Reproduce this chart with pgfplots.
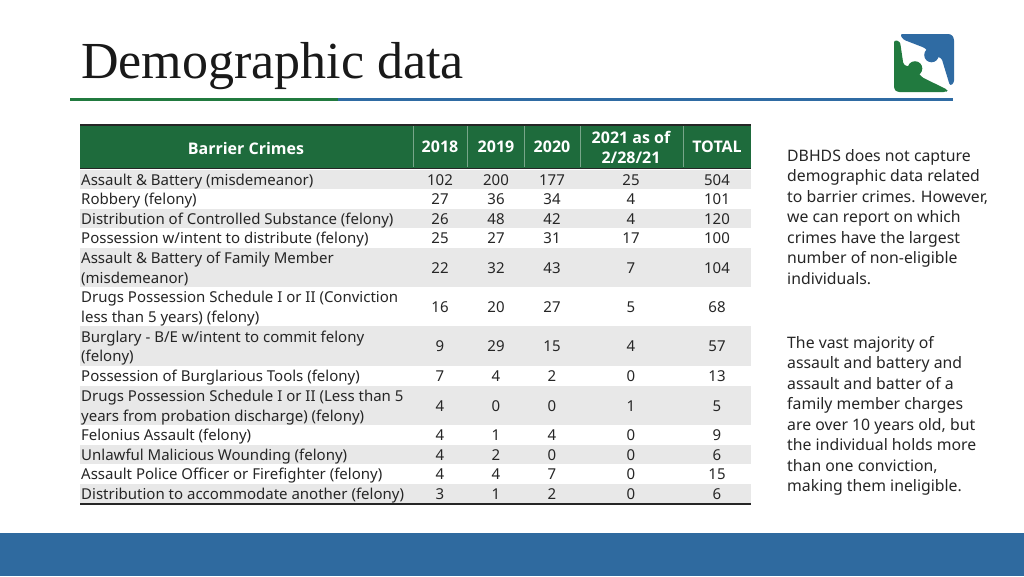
\documentclass[border=0pt]{standalone}
\usepackage{pgfplots}
\pgfplotsset{compat=1.18}
\usepackage{fontspec}
\setmainfont{Noto Sans}
\newfontfamily\hdrfont{Open Sans}
\newfontfamily\titlefont{Liberation Serif}
\definecolor{hdrgreen}{HTML}{1E6B3C}
\definecolor{rowgray}{HTML}{E8E8E8}
\definecolor{lgreen}{HTML}{217A3F}
\definecolor{lblue}{HTML}{2F6BA3}
\definecolor{barblue}{HTML}{2F6A9F}
\definecolor{txt}{HTML}{262626}
\newcommand\bodyf{\fontsize{15}{19.6}\selectfont}
\newcommand\hdrf{\hdrfont\fontsize{16}{20}\selectfont\bfseries}
\begin{document}
\begin{tikzpicture}
\begin{axis}[
  width=1024pt, height=576pt, scale only axis,
  xmin=0, xmax=1024, ymin=0, ymax=576, y dir=reverse,
  hide axis, clip=false,
]
% background
\fill[white] (axis cs:0,0) rectangle (axis cs:1024,576);
% title
\node[anchor=base west, inner sep=0pt, font=\titlefont\fontsize{52}{56}\selectfont, text=black!90] at (axis cs:81,78) {Demographic data};
\fill[lgreen] (axis cs:70,97.5) rectangle (axis cs:338,101);
\fill[lblue] (axis cs:338,97.5) rectangle (axis cs:953,101);
% logo
\fill[lblue, rounded corners=2.5pt] (axis cs:900,34) -- (axis cs:951,34) -- (axis cs:954,38) -- (axis cs:954,83) -- (axis cs:950,86) -- (axis cs:941.5,58) -- (axis cs:931,55) -- (axis cs:925,48) -- (axis cs:903,39.5) -- cycle;
\fill[lblue] (axis cs:931.5,55) circle[radius=7.3pt];
\fill[lgreen, rounded corners=2.5pt] (axis cs:894,40) -- (axis cs:900,41.5) -- (axis cs:903.5,65) -- (axis cs:915,68) -- (axis cs:921.5,77) -- (axis cs:948,90) -- (axis cs:946,92) -- (axis cs:897,92) -- (axis cs:894,89) -- cycle;
\fill[lgreen] (axis cs:915,68.5) circle[radius=7.3pt];
% bottom bar
\fill[barblue] (axis cs:0,533) rectangle (axis cs:1024,576);
% table header
\fill[hdrgreen] (axis cs:80,124.5) rectangle (axis cs:751,168.5);
\draw[black!85, line width=2pt] (axis cs:80,124.5) -- (axis cs:751,124.5);
\pgfplotsinvokeforeach{413,467,524,580,683}{
  \draw[hdrgreen!60!white, line width=0.6pt] (axis cs:#1,126) -- (axis cs:#1,167);
}
\draw[black!85, line width=1.8pt] (axis cs:80,168.5) -- (axis cs:751,168.5);
\node[font=\hdrf, text=white] at (axis cs:246,148) {Barrier Crimes};
\node[font=\hdrf, text=white] at (axis cs:440,147) {2018};
\node[font=\hdrf, text=white] at (axis cs:496,147) {2019};
\node[font=\hdrf, text=white] at (axis cs:552,147) {2020};
\node[font=\hdrf, text=white, align=center] at (axis cs:631,147) {2021 as of\\2/28/21};
\node[font=\hdrf, text=white] at (axis cs:717,147) {TOTAL};
% gray rows
\fill[rowgray] (axis cs:80,169.5) rectangle (axis cs:751,189);
\fill[rowgray] (axis cs:80,208.5) rectangle (axis cs:751,228);
\fill[rowgray] (axis cs:80,248) rectangle (axis cs:751,287);
\fill[rowgray] (axis cs:80,326) rectangle (axis cs:751,366);
\fill[rowgray] (axis cs:80,386) rectangle (axis cs:751,425);
\fill[rowgray] (axis cs:80,445) rectangle (axis cs:751,464);
\fill[rowgray] (axis cs:80,484) rectangle (axis cs:751,503);
\draw[black!85, line width=2.6pt] (axis cs:80,504) -- (axis cs:751,504);
% row labels (baseline = row centre + 5.5)
\begin{scope}[every node/.style={anchor=base west, inner sep=0pt, font=\bodyf, text=txt}]
\node at (axis cs:81,185.5) {Assault \& Battery (misdemeanor)};
\node at (axis cs:81,204.5) {Robbery (felony)};
\node at (axis cs:81,224) {Distribution of Controlled Substance (felony)};
\node at (axis cs:81,243.5) {Possession w/intent to distribute (felony)};
\node at (axis cs:81,263.5) {Assault \& Battery of Family Member};
\node at (axis cs:81,283) {(misdemeanor)};
\node at (axis cs:81,302.5) {Drugs Possession Schedule I or II (Conviction};
\node at (axis cs:81,322) {less than 5 years) (felony)};
\node at (axis cs:81,342) {Burglary - B/E w/intent to commit felony};
\node at (axis cs:81,361.5) {(felony)};
\node at (axis cs:81,381.5) {Possession of Burglarious Tools (felony)};
\node at (axis cs:81,401.5) {Drugs Possession Schedule I or II (Less than 5};
\node at (axis cs:81,421) {years from probation discharge) (felony)};
\node at (axis cs:81,440.5) {Felonius Assault (felony)};
\node at (axis cs:81,460) {Unlawful Malicious Wounding (felony)};
\node at (axis cs:81,479.5) {Assault Police Officer or Firefighter (felony)};
\node at (axis cs:81,499.5) {Distribution to accommodate another (felony)};
\end{scope}
% values
\addplot[mark=none, draw=none, nodes near coords, point meta=explicit symbolic,
  every node near coord/.append style={anchor=base, yshift=-5.5pt, font=\bodyf, text=txt, inner sep=0pt}]
  table[x=x, y=y, meta=v] {
x y v
440 180 102
496 180 200
552 180 177
631 180 25
717 180 504
440 199 27
496 199 36
552 199 34
631 199 4
717 199 101
440 218.5 26
496 218.5 48
552 218.5 42
631 218.5 4
717 218.5 120
440 238 25
496 238 27
552 238 31
631 238 17
717 238 100
440 267.5 22
496 267.5 32
552 267.5 43
631 267.5 7
717 267.5 104
440 306.5 16
496 306.5 20
552 306.5 27
631 306.5 5
717 306.5 68
440 346 9
496 346 29
552 346 15
631 346 4
717 346 57
440 376 7
496 376 4
552 376 2
631 376 0
717 376 13
440 405.5 4
496 405.5 0
552 405.5 0
631 405.5 1
717 405.5 5
440 435 4
496 435 1
552 435 4
631 435 0
717 435 9
440 454.5 4
496 454.5 2
552 454.5 0
631 454.5 0
717 454.5 6
440 474 4
496 474 4
552 474 7
631 474 0
717 474 15
440 494 3
496 494 1
552 494 2
631 494 0
717 494 6
};
% side text
\node[anchor=north west, align=left, inner sep=0pt, font=\fontsize{15.8}{20.5}\selectfont, text=txt] at (axis cs:787,149) {DBHDS does not capture\\demographic data related\\to barrier crimes. However,\\we can report on which\\crimes have the largest\\number of non-eligible\\individuals.};
\node[anchor=north west, align=left, inner sep=0pt, font=\fontsize{15.8}{20.5}\selectfont, text=txt] at (axis cs:787,336) {The vast majority of\\assault and battery and\\assault and batter of a\\family member charges\\are over 10 years old, but\\the individual holds more\\than one conviction,\\making them ineligible.};
\end{axis}
\end{tikzpicture}
\end{document}
